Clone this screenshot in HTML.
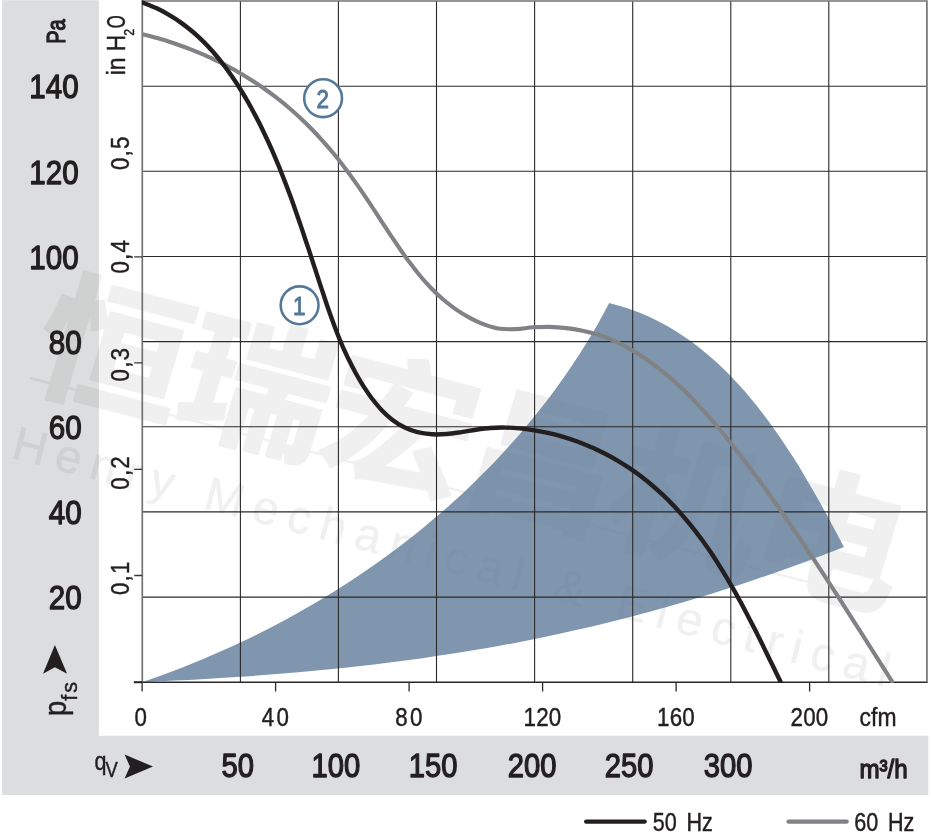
<!DOCTYPE html>
<html lang="en"><head><meta charset="utf-8"><title>Fan curve 50 Hz / 60 Hz</title>
<style>
html,body{margin:0;padding:0;background:#fff;}
body{width:931px;height:839px;overflow:hidden;}
svg{display:block;will-change:transform;}
text{font-family:"Liberation Sans","Noto Sans CJK SC",sans-serif;fill:#231f20;}
.m{stroke:#231f20;stroke-width:1.3px;stroke-linejoin:round;}
.l{stroke:#231f20;stroke-width:.45px;stroke-linejoin:round;}
.wm{fill:#000;fill-opacity:.055;stroke:none;}
</style></head><body>
<svg width="931" height="839" viewBox="0 0 931 839">
<rect width="931" height="839" fill="#fff"/>
<path d="M2.1 .25H98.8V735.8H928.3V795.1H2.1Z" fill="#dcddde"/>
<g opacity=".055">
<g transform="translate(26 381) rotate(14.7) skewX(-2) scale(1.06 1)">
<text x="0" y="0" font-size="142" font-weight="bold" letter-spacing="-2" style="fill:#000;stroke:#000;stroke-width:2.5px;stroke-linejoin:round">恒瑞宏昌机电</text>
</g>
<path d="M30 378L880 601" stroke="#000" stroke-width="2.5" fill="none"/>
<g transform="translate(10 457.5) rotate(14.7)">
<text x="0" y="0" font-size="47" textLength="905" style="fill:#000;stroke:#000;stroke-width:.6px">Henry Mechanical &amp; Electrical</text>
</g>
</g>
<path d="M142.6 682.0 C145.9 680.8 155.9 677.4 162.5 675.0 C169.2 672.5 175.8 670.0 182.4 667.5 C188.9 664.9 195.5 662.2 202.0 659.5 C208.5 656.8 215.0 654.0 221.5 651.1 C228.0 648.3 234.4 645.3 240.8 642.3 C247.2 639.3 253.6 636.2 260.0 633.0 C266.3 629.8 272.6 626.6 278.9 623.3 C285.1 620.0 291.4 616.6 297.6 613.1 C303.7 609.6 309.9 606.1 316.0 602.5 C322.1 598.9 328.2 595.2 334.2 591.5 C340.2 587.7 346.2 583.9 352.1 580.0 C358.0 576.1 363.9 572.1 369.7 568.1 C375.5 564.1 381.3 560.0 387.0 555.8 C392.7 551.6 398.4 547.4 404.0 543.1 C409.6 538.7 415.2 534.3 420.6 529.9 C426.1 525.4 431.6 520.9 436.9 516.3 C442.3 511.7 447.6 507.1 452.9 502.3 C458.1 497.6 463.3 492.8 468.4 487.9 C473.5 483.1 478.6 478.1 483.5 473.1 C488.5 468.1 493.4 463.0 498.2 457.9 C503.1 452.7 507.8 447.5 512.5 442.3 C517.2 437.0 521.8 431.7 526.3 426.2 C530.9 420.8 535.3 415.4 539.7 409.8 C544.1 404.3 548.4 398.7 552.6 393.0 C556.8 387.3 560.9 381.6 565.0 375.8 C569.0 370.0 573.0 364.1 576.8 358.2 C580.7 352.3 584.5 346.3 588.2 340.2 C591.9 334.2 595.5 328.0 599.0 321.9 C602.5 315.7 607.5 306.2 609.2 303.1 C612.6 304.1 622.9 306.7 629.4 309.0 C636.0 311.2 642.4 313.8 648.6 316.6 C654.8 319.4 660.9 322.5 666.8 325.8 C672.7 329.1 678.4 332.7 684.0 336.4 C689.6 340.2 695.0 344.2 700.3 348.4 C705.6 352.6 710.7 357.0 715.7 361.5 C720.7 366.1 725.6 370.8 730.4 375.7 C735.1 380.6 739.8 385.6 744.3 390.8 C748.8 396.0 753.2 401.3 757.5 406.7 C761.8 412.0 765.9 417.6 770.0 423.2 C774.1 428.7 778.1 434.4 782.0 440.2 C785.9 445.9 789.6 451.8 793.4 457.6 C797.1 463.5 800.7 469.4 804.3 475.4 C807.8 481.3 811.3 487.3 814.7 493.3 C818.1 499.3 821.5 505.3 824.8 511.3 C828.1 517.2 831.3 523.2 834.5 529.2 C837.7 535.1 842.3 543.9 843.9 546.9 C839.0 548.8 824.5 554.5 814.8 558.2 C805.1 561.9 795.3 565.5 785.5 569.0 C775.7 572.5 765.9 576.0 756.0 579.3 C746.2 582.7 736.3 585.9 726.4 589.1 C716.4 592.2 706.5 595.3 696.5 598.3 C686.6 601.3 676.6 604.2 666.6 607.0 C656.6 609.9 646.5 612.6 636.5 615.2 C626.4 617.9 616.3 620.5 606.2 622.9 C596.1 625.4 586.0 627.8 575.9 630.1 C565.7 632.4 555.5 634.6 545.4 636.7 C535.2 638.9 525.0 640.9 514.8 642.9 C504.6 644.8 494.3 646.7 484.1 648.5 C473.8 650.3 463.6 652.0 453.3 653.6 C443.0 655.2 432.7 656.7 422.4 658.2 C412.1 659.6 401.8 661.0 391.5 662.3 C381.2 663.6 370.9 664.8 360.5 666.0 C350.2 667.2 339.8 668.3 329.5 669.3 C319.1 670.3 308.8 671.3 298.4 672.2 C288.0 673.1 277.6 674.0 267.3 674.8 C256.9 675.6 246.5 676.3 236.1 677.0 C225.7 677.7 215.3 678.3 204.9 678.9 C194.6 679.5 184.2 680.1 173.8 680.6 C163.4 681.1 147.8 681.8 142.6 682.0Z" fill="#5b7897" fill-opacity=".78"/>
<path d="M240.4 1.0V682.2M338.4 1.0V682.2M436.5 1.0V682.2M534.6 1.0V682.2M632.7 1.0V682.2M730.8 1.0V682.2M828.8 1.0V682.2M142.3 86.2H926.9M142.3 171.3H926.9M142.3 256.5H926.9M142.3 341.6H926.9M142.3 426.8H926.9M142.3 511.9H926.9M142.3 597.1H926.9" fill="none" stroke="#2b2829" stroke-width="1.1"/>
<path d="M142.3 682.25H927.7" fill="none" stroke="#2b2829" stroke-width="1.5"/>
<path d="M142.3 682.2V1.0H926.9V682.2" fill="none" stroke="#737275" stroke-width="1.7"/>
<path d="M142.1 682.2V691.6M275.6 682.2V691.6M409.1 682.2V691.6M542.6 682.2V691.6M676.1 682.2V691.6M809.6 682.2V691.6" fill="none" stroke="#2b2829" stroke-width="1.3"/>
<path d="M134.2 575.5H142.3M134.2 469.3H142.3M134.2 362.9H142.3M134.2 256.8H142.3" fill="none" stroke="#3a3839" stroke-width="1.3"/>
<path d="M133.8 682.2H142.3" fill="none" stroke="#231f20" stroke-width="2"/>
<clipPath id="pc"><rect x="141.9" y="0" width="786.6" height="683.1"/></clipPath>
<g clip-path="url(#pc)" fill="none" stroke-linecap="round" stroke-linejoin="round">
<path d="M142.2 34.2 C144.9 34.9 152.9 36.8 158.1 38.3 C163.4 39.8 168.7 41.5 173.9 43.2 C179.1 45.0 184.3 46.8 189.4 48.8 C194.5 50.8 199.6 52.9 204.7 55.1 C209.7 57.3 214.7 59.7 219.6 62.1 C224.5 64.6 229.4 67.1 234.2 69.8 C239.0 72.5 243.8 75.3 248.4 78.2 C253.1 81.1 257.7 84.1 262.2 87.2 C266.7 90.3 271.2 93.5 275.5 96.9 C279.9 100.2 284.1 103.7 288.3 107.2 C292.5 110.8 296.6 114.4 300.6 118.2 C304.6 121.9 308.5 125.8 312.3 129.7 C316.1 133.6 319.9 137.7 323.5 141.8 C327.2 145.9 330.7 150.0 334.2 154.3 C337.7 158.5 341.0 162.8 344.3 167.2 C347.7 171.5 350.9 175.9 354.0 180.4 C357.2 184.8 360.3 189.3 363.4 193.9 C366.4 198.4 369.5 202.9 372.5 207.5 C375.5 212.1 378.5 216.7 381.5 221.3 C384.6 225.9 387.6 230.5 390.6 235.2 C393.7 239.8 396.8 244.4 400.0 249.0 C403.1 253.6 406.3 258.1 409.7 262.6 C413.0 267.0 416.4 271.4 420.0 275.7 C423.5 279.9 427.2 284.1 431.0 288.0 C434.8 292.0 438.8 295.8 442.9 299.3 C447.1 302.9 451.4 306.3 455.9 309.4 C460.4 312.5 465.0 315.3 469.8 317.9 C474.6 320.4 479.5 322.8 484.6 324.6 C489.7 326.4 494.9 328.0 500.2 328.8 C505.5 329.5 510.9 329.3 516.4 329.1 C521.8 328.8 527.4 327.7 532.9 327.3 C538.5 327.0 544.0 326.8 549.6 326.9 C555.1 327.1 560.7 327.5 566.1 328.1 C571.6 328.7 577.0 329.6 582.4 330.7 C587.7 331.8 593.0 333.2 598.2 334.8 C603.4 336.5 608.5 338.4 613.5 340.7 C618.6 342.9 623.5 345.4 628.3 348.1 C633.1 350.8 637.9 353.7 642.5 356.8 C647.1 359.8 651.6 363.0 656.0 366.3 C660.3 369.7 664.6 373.1 668.8 376.6 C672.9 380.2 677.0 383.8 681.0 387.6 C685.0 391.3 688.9 395.2 692.7 399.1 C696.5 403.0 700.3 407.0 703.9 411.1 C707.6 415.2 711.2 419.3 714.8 423.5 C718.3 427.7 721.8 431.9 725.3 436.2 C728.8 440.5 732.2 444.8 735.5 449.2 C738.9 453.5 742.3 457.9 745.6 462.3 C748.9 466.6 752.2 471.0 755.5 475.5 C758.7 479.9 762.0 484.3 765.2 488.8 C768.4 493.2 771.6 497.7 774.8 502.2 C777.9 506.6 781.1 511.1 784.2 515.6 C787.3 520.2 790.5 524.7 793.5 529.2 C796.6 533.7 799.7 538.3 802.8 542.8 C805.8 547.4 808.9 552.0 811.9 556.5 C814.9 561.1 818.0 565.7 821.0 570.3 C824.0 574.9 827.0 579.5 829.9 584.1 C832.9 588.7 835.9 593.3 838.9 597.9 C841.8 602.5 844.8 607.1 847.8 611.8 C850.7 616.4 853.7 621.0 856.6 625.7 C859.6 630.3 862.5 634.9 865.5 639.6 C868.4 644.2 871.3 648.8 874.3 653.5 C877.2 658.1 880.2 662.8 883.1 667.4 C886.1 672.0 890.5 679.0 892.0 681.3" stroke="#808285" stroke-width="4.1"/>
<path d="M142.2 2.4 C144.5 3.4 151.7 6.0 156.2 8.1 C160.8 10.2 165.1 12.6 169.4 15.1 C173.6 17.5 177.6 20.2 181.6 23.1 C185.5 25.9 189.3 28.9 193.0 32.0 C196.7 35.2 200.2 38.5 203.7 41.9 C207.1 45.3 210.4 48.9 213.6 52.5 C216.8 56.2 219.9 60.0 222.9 63.8 C225.9 67.7 228.7 71.7 231.5 75.7 C234.3 79.7 237.0 83.8 239.6 88.0 C242.2 92.2 244.8 96.4 247.2 100.7 C249.7 104.9 252.0 109.3 254.3 113.6 C256.7 117.9 258.9 122.3 261.1 126.7 C263.2 131.1 265.3 135.5 267.4 140.0 C269.5 144.4 271.4 148.9 273.4 153.4 C275.3 157.9 277.2 162.4 279.1 166.9 C280.9 171.5 282.7 176.0 284.5 180.6 C286.3 185.2 288.0 189.7 289.7 194.3 C291.4 198.9 293.1 203.5 294.7 208.2 C296.3 212.8 297.9 217.4 299.5 222.0 C301.1 226.7 302.7 231.3 304.2 236.0 C305.8 240.6 307.3 245.3 308.9 249.9 C310.4 254.6 311.9 259.2 313.4 263.9 C315.0 268.6 316.5 273.2 318.0 277.9 C319.5 282.5 321.0 287.2 322.6 291.8 C324.1 296.4 325.6 301.1 327.2 305.7 C328.8 310.3 330.4 314.9 332.1 319.5 C333.7 324.1 335.4 328.7 337.2 333.2 C339.0 337.8 340.9 342.3 342.8 346.8 C344.8 351.2 346.8 355.7 349.0 360.1 C351.1 364.5 353.4 368.9 355.8 373.2 C358.2 377.5 360.7 381.8 363.4 386.1 C366.1 390.3 368.9 394.5 371.9 398.5 C375.0 402.4 378.1 406.3 381.5 409.9 C384.9 413.4 388.5 416.8 392.2 419.7 C396.0 422.6 400.0 425.2 404.3 427.3 C408.5 429.4 413.0 431.0 417.6 432.2 C422.2 433.4 427.0 434.0 431.9 434.3 C436.7 434.6 441.7 434.4 446.6 434.0 C451.5 433.6 456.5 432.8 461.4 432.1 C466.3 431.4 471.1 430.4 476.0 429.7 C480.9 429.0 485.8 428.3 490.6 428.0 C495.5 427.6 500.4 427.5 505.3 427.6 C510.2 427.6 515.1 428.0 519.9 428.4 C524.8 428.9 529.7 429.5 534.5 430.3 C539.3 431.1 544.1 432.1 548.9 433.2 C553.7 434.2 558.5 435.5 563.2 436.9 C567.9 438.3 572.5 439.8 577.2 441.5 C581.8 443.2 586.3 445.0 590.8 447.0 C595.4 448.9 599.8 451.1 604.2 453.3 C608.6 455.5 612.9 457.9 617.1 460.4 C621.3 462.9 625.5 465.5 629.6 468.2 C633.7 471.0 637.6 473.8 641.5 476.8 C645.4 479.7 649.2 482.8 652.9 486.0 C656.6 489.1 660.2 492.4 663.7 495.7 C667.2 499.1 670.6 502.5 674.0 506.1 C677.3 509.6 680.6 513.2 683.7 516.9 C686.9 520.6 690.0 524.3 693.0 528.1 C696.1 532.0 699.0 535.9 701.9 539.8 C704.8 543.8 707.6 547.8 710.4 551.8 C713.1 555.9 715.8 560.0 718.4 564.2 C721.1 568.3 723.7 572.5 726.2 576.8 C728.7 581.0 731.2 585.3 733.7 589.6 C736.1 593.9 738.5 598.2 740.9 602.6 C743.2 606.9 745.5 611.3 747.8 615.7 C750.1 620.1 752.3 624.5 754.6 628.8 C756.8 633.2 759.0 637.6 761.2 642.0 C763.3 646.4 765.5 650.8 767.6 655.2 C769.8 659.6 771.9 664.0 774.0 668.3 C776.1 672.7 779.2 679.1 780.3 681.3" stroke="#231f20" stroke-width="4.4"/>
</g>
<circle cx="299.6" cy="305.3" r="18.9" fill="#fff" stroke="#547998" stroke-width="2.6"/>
<text transform="translate(299.1 314.6) scale(.86 1)" font-size="26" text-anchor="middle" style="fill:#547998;stroke:#547998;stroke-width:1px">1</text>
<circle cx="323.1" cy="98.2" r="18.9" fill="#fff" stroke="#547998" stroke-width="2.6"/>
<text transform="translate(322.6 107.5) scale(.86 1)" font-size="26" text-anchor="middle" style="fill:#547998;stroke:#547998;stroke-width:1px">2</text>
<text transform="translate(78.7 98.4) scale(0.875 1)" font-size="33.8" text-anchor="end" class="m">140</text>
<text transform="translate(78.7 183.5) scale(0.875 1)" font-size="33.8" text-anchor="end" class="m">120</text>
<text transform="translate(78.7 268.7) scale(0.875 1)" font-size="33.8" text-anchor="end" class="m">100</text>
<text transform="translate(81.7 353.8) scale(0.875 1)" font-size="33.8" text-anchor="end" class="m">80</text>
<text transform="translate(81.7 438.9) scale(0.875 1)" font-size="33.8" text-anchor="end" class="m">60</text>
<text transform="translate(81.7 524.1) scale(0.875 1)" font-size="33.8" text-anchor="end" class="m">40</text>
<text transform="translate(81.7 609.3) scale(0.875 1)" font-size="33.8" text-anchor="end" class="m">20</text>
<text transform="translate(65.0 31.6) rotate(-90) scale(0.770 1)" font-size="26" text-anchor="middle" class="m">Pa</text>
<text transform="translate(125 75.2) rotate(-90) scale(.86 1)" font-size="26.5" class="l">in H</text>
<text transform="translate(134.2 35.8) rotate(-90) scale(.8 1)" font-size="15.5" class="l">2</text>
<text transform="translate(125 28.3) rotate(-90) scale(.63 1)" font-size="26.5" class="l">O</text>
<text transform="translate(129.0 595.1) rotate(-90) scale(0.860 1)" font-size="26" text-anchor="start" class="l" letter-spacing="1.4">0,1</text>
<text transform="translate(129.0 489.7) rotate(-90) scale(0.860 1)" font-size="26" text-anchor="start" class="l" letter-spacing="1.4">0,2</text>
<text transform="translate(129.0 381.5) rotate(-90) scale(0.860 1)" font-size="26" text-anchor="start" class="l" letter-spacing="1.4">0,3</text>
<text transform="translate(129.0 273.6) rotate(-90) scale(0.860 1)" font-size="26" text-anchor="start" class="l" letter-spacing="1.4">0,4</text>
<text transform="translate(129.0 170.1) rotate(-90) scale(0.860 1)" font-size="26" text-anchor="start" class="l" letter-spacing="1.4">0,5</text>
<text transform="translate(65.7 716) rotate(-90) scale(.86 1)" font-size="31.7" class="l">p</text>
<text transform="translate(77.2 700.7) rotate(-90)" font-size="21.5" letter-spacing="2" class="l">fs</text>
<path d="M54.9 645.1L67.1 673.8L54.9 667.2L43 673.8Z" fill="#231f20"/>
<text transform="translate(94.5 770.2) scale(.86 1)" font-size="25" class="l">q</text>
<text transform="translate(105.6 776.7) scale(.86 1)" font-size="21.5" class="l">V</text>
<path d="M153 766.5L124.6 754.6L129.9 766.5L124.6 778.4Z" fill="#231f20"/>
<text transform="translate(140.7 726.2) scale(0.860 1)" font-size="26" text-anchor="middle" class="l">0</text>
<text transform="translate(276.6 726.2) scale(0.860 1)" font-size="26" text-anchor="middle" class="l" letter-spacing="2.7">40</text>
<text transform="translate(410.1 726.2) scale(0.860 1)" font-size="26" text-anchor="middle" class="l" letter-spacing="2.7">80</text>
<text transform="translate(542.5 726.2) scale(0.860 1)" font-size="26" text-anchor="middle" class="l" letter-spacing="0.3">120</text>
<text transform="translate(676.0 726.2) scale(0.860 1)" font-size="26" text-anchor="middle" class="l" letter-spacing="0.3">160</text>
<text transform="translate(809.5 726.2) scale(0.860 1)" font-size="26" text-anchor="middle" class="l" letter-spacing="0.3">200</text>
<text transform="translate(859.6 726.4) scale(0.880 1)" font-size="26" text-anchor="start" class="l">cfm</text>
<text transform="translate(237.8 777.0) scale(0.885 1)" font-size="33" text-anchor="middle" class="m">50</text>
<text transform="translate(335.8 777.0) scale(0.885 1)" font-size="33" text-anchor="middle" class="m">100</text>
<text transform="translate(433.2 777.0) scale(0.885 1)" font-size="33" text-anchor="middle" class="m">150</text>
<text transform="translate(532.0 777.0) scale(0.885 1)" font-size="33" text-anchor="middle" class="m">200</text>
<text transform="translate(629.1 777.0) scale(0.885 1)" font-size="33" text-anchor="middle" class="m">250</text>
<text transform="translate(728.1 777.0) scale(0.885 1)" font-size="33" text-anchor="middle" class="m">300</text>
<text transform="translate(859.4 778.2) scale(0.930 1)" font-size="26" text-anchor="start" class="m">m³/h</text>
<path d="M586.2 821.6H644.6" stroke="#231f20" stroke-width="4.4" stroke-linecap="round" fill="none"/>
<path d="M788.6 821.6H846.6" stroke="#808285" stroke-width="4.4" stroke-linecap="round" fill="none"/>
<text transform="translate(652.8 831.0) scale(0.830 1)" font-size="26" text-anchor="start" class="l" word-spacing="4.5">50 Hz</text>
<text transform="translate(854.2 831.0) scale(0.830 1)" font-size="26" text-anchor="start" class="l" word-spacing="4.5">60 Hz</text>
</svg>
</body></html>
